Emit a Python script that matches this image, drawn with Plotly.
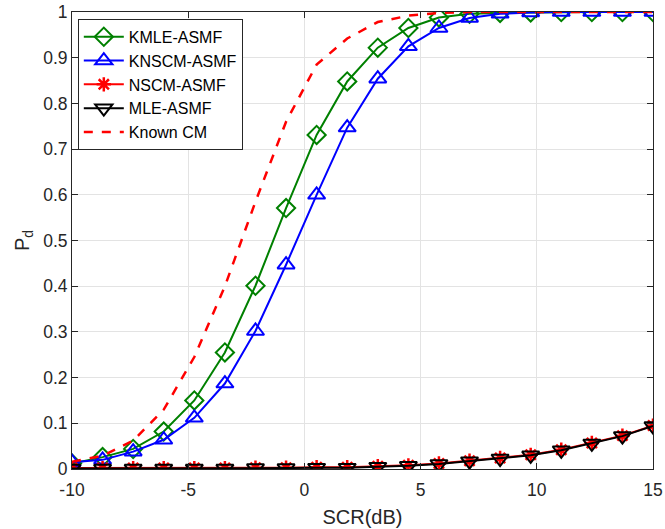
import plotly.graph_objects as go

scr_db = [-10, -8.684, -7.368, -6.053, -4.737, -3.421, -2.105, -0.789, 0.526, 1.842,
          3.158, 4.474, 5.789, 7.105, 8.421, 9.737, 11.053, 12.368, 13.684, 15]

kmle_asmf = [0.012, 0.026, 0.044, 0.082, 0.150, 0.255, 0.401, 0.571, 0.731, 0.848,
             0.922, 0.965, 0.988, 0.996, 0.998, 0.999, 1.0, 1.0, 1.0, 1.0]
knscm_asmf = [0.015, 0.020, 0.038, 0.064, 0.112, 0.187, 0.302, 0.447, 0.600, 0.747,
              0.854, 0.925, 0.965, 0.987, 0.996, 0.999, 1.0, 1.0, 1.0, 1.0]
nscm_asmf = [0.002, 0.002, 0.002, 0.002, 0.002, 0.002, 0.003, 0.003, 0.004, 0.004,
             0.006, 0.008, 0.012, 0.018, 0.024, 0.031, 0.042, 0.057, 0.073, 0.095]
mle_asmf = [0.001, 0.001, 0.001, 0.001, 0.001, 0.001, 0.002, 0.002, 0.003, 0.003,
            0.005, 0.007, 0.011, 0.017, 0.023, 0.030, 0.041, 0.056, 0.072, 0.094]
known_cm = [0.016, 0.029, 0.062, 0.130, 0.245, 0.400, 0.585, 0.760, 0.885, 0.942,
            0.978, 0.992, 0.998, 1.0, 1.0, 1.0, 1.0, 1.0, 1.0, 1.0]

x_ticks = [-10, -5, 0, 5, 10, 15]
x_tick_text = ["-10", "-5", "0", "5", "10", "15"]
y_ticks = [0, 0.1, 0.2, 0.3, 0.4, 0.5, 0.6, 0.7, 0.8, 0.9, 1]
y_tick_text = ["0", "0.1", "0.2", "0.3", "0.4", "0.5", "0.6", "0.7", "0.8", "0.9", "1"]

FONT = "Liberation Sans, Arial, Helvetica"
INK = "#262626"

fig = go.Figure()
fig.add_trace(go.Scatter(x=scr_db, y=kmle_asmf, name="KMLE-ASMF", mode="lines+markers",
                         line=dict(color="#008000", width=2),
                         marker=dict(symbol="diamond-open", size=14, color="#008000",
                                     line=dict(width=2, color="#008000"))))
fig.add_trace(go.Scatter(x=scr_db, y=knscm_asmf, name="KNSCM-ASMF", mode="lines+markers",
                         line=dict(color="#0000ff", width=2),
                         marker=dict(symbol="triangle-up-open", size=15, color="#0000ff",
                                     line=dict(width=2, color="#0000ff"))))
fig.add_trace(go.Scatter(x=scr_db, y=nscm_asmf, name="NSCM-ASMF", mode="lines+markers",
                         line=dict(color="#ff0000", width=2),
                         marker=dict(symbol="asterisk-open", size=12, color="#ff0000",
                                     line=dict(width=2.5, color="#ff0000"))))
fig.add_trace(go.Scatter(x=scr_db, y=mle_asmf, name="MLE-ASMF", mode="lines+markers",
                         line=dict(color="#000000", width=2),
                         marker=dict(symbol="triangle-down-open", size=15, color="#000000",
                                     line=dict(width=2, color="#000000"))))
fig.add_trace(go.Scatter(x=scr_db, y=known_cm, name="Known CM", mode="lines",
                         line=dict(color="#ff0000", width=2.5, dash="dash")))

axis_common = dict(showline=True, linecolor=INK, linewidth=1, mirror="ticks",
                   ticks="inside", ticklen=6, tickcolor=INK, automargin=False,
                   showgrid=True, gridcolor="#e3e3e3", gridwidth=1, zeroline=False,
                   tickfont=dict(family=FONT, size=17.5, color=INK))

fig.update_layout(
    width=665, height=529,
    margin=dict(l=72, r=12, t=12, b=60),
    paper_bgcolor="white", plot_bgcolor="white",
    font=dict(family=FONT, color=INK),
    xaxis=dict(range=[-10, 15], tickvals=x_ticks, ticktext=x_tick_text, ticklabelstandoff=5,
               title=dict(text="SCR(dB)", font=dict(family=FONT, size=20, color=INK), standoff=10),
               **axis_common),
    yaxis=dict(range=[0, 1], tickvals=y_ticks, ticktext=y_tick_text,
               title=dict(text="P<sub>d</sub>", font=dict(family=FONT, size=20, color=INK), standoff=8),
               **axis_common),
    legend=dict(x=0.01, y=0.985, xanchor="left", yanchor="top",
                bgcolor="white", bordercolor=INK, borderwidth=1,
                font=dict(family=FONT, size=16, color="#000000"),
                tracegroupgap=0, itemwidth=40),
    showlegend=True,
)

fig.write_html("out.html", config={"displayModeBar": False},
               post_script="document.body.style.margin='0';document.body.style.overflow='hidden';")
